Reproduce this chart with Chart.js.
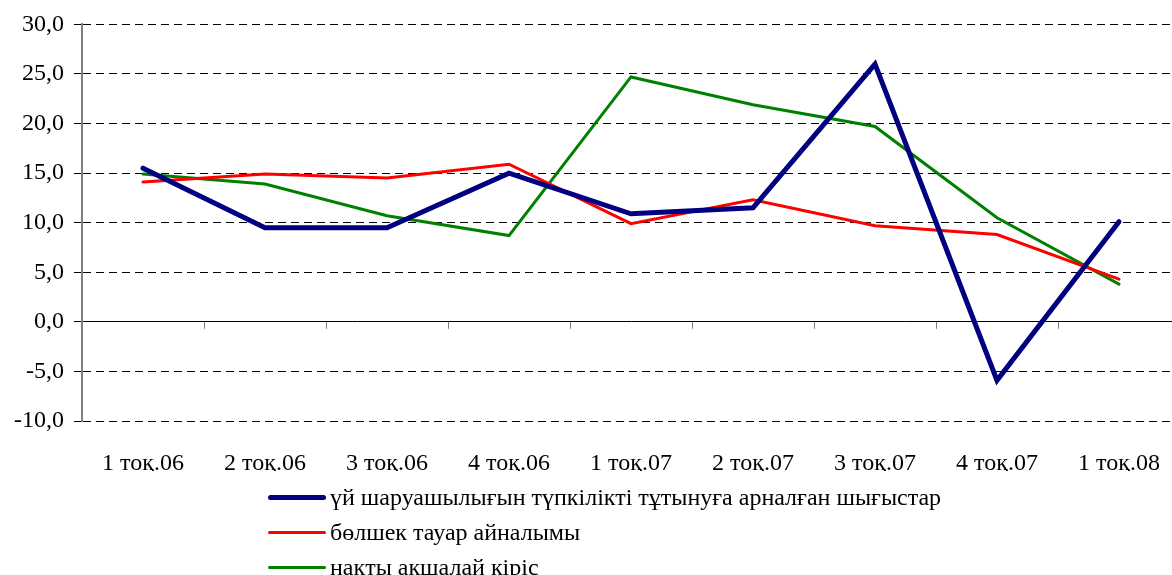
<!DOCTYPE html>
<html>
<head>
<meta charset="utf-8">
<script src="https://cdn.jsdelivr.net/npm/chart.js@4.4.0/dist/chart.umd.min.js"></script>
<style>
  html, body { margin: 0; padding: 0; background: #fff; overflow: hidden; }
  #wrap { position: relative; width: 1172px; height: 575px; overflow: hidden; }
  #chart { position: absolute; left: 0; top: 0; }
  #legend { position: absolute; left: 268px; top: 480px; font-family: "Liberation Serif", serif; font-size: 24px; color: #000; }
  .row { height: 35px; display: flex; align-items: center; white-space: nowrap; }
  .sw { display: inline-block; width: 58px; margin-right: 4px; border-radius: 3px; }
</style>
</head>
<body>
<div id="wrap">
  <canvas id="chart" width="1190" height="575"></canvas>
  <div id="legend"></div>
</div>
<script>
const quarters = ["1 тоқ.06", "2 тоқ.06", "3 тоқ.06", "4 тоқ.06", "1 тоқ.07", "2 тоқ.07", "3 тоқ.07", "4 тоқ.07", "1 тоқ.08"];
const householdSpending = [15.5, 9.5, 9.5, 15.0, 10.9, 11.5, 26.0, -5.9, 10.1];
const retailTurnover = [14.1, 14.9, 14.5, 15.9, 9.9, 12.3, 9.7, 8.8, 4.3];
const realIncome = [14.9, 13.9, 10.7, 8.7, 24.7, 21.9, 19.7, 10.5, 3.8];
const seriesNames = [
	"үй шаруашылығын түпкілікті тұтынуға арналған шығыстар",
	"бөлшек тауар айналымы",
	"нақты ақшалай кіріс"
];
const yTicks = { min: -10, max: 30, step: 5 };

const serif = "'Liberation Serif', 'Times New Roman', serif";

// short grey ticks along the zero line between categories
const zeroTicks = {
	id: 'zeroTicks',
	afterDraw(chart) {
		const x = chart.scales.x, y = chart.scales.y, ctx = chart.ctx;
		const y0 = y.getPixelForValue(0);
		ctx.save();
		ctx.strokeStyle = '#808080';
		ctx.lineWidth = 1;
		for (let i = 0; i < quarters.length - 1; i++) {
			const xb = Math.round((x.getPixelForValue(i) + x.getPixelForValue(i + 1)) / 2) + 0.5;
			ctx.beginPath();
			ctx.moveTo(xb, y0);
			ctx.lineTo(xb, y0 + 7);
			ctx.stroke();
		}
		ctx.restore();
	}
};

const chart = new Chart(document.getElementById('chart'), {
	type: 'line',
	data: {
		labels: quarters,
		datasets: [
			{ label: seriesNames[0], data: householdSpending, borderColor: '#000080', backgroundColor: '#000080', borderWidth: 5 },
			{ label: seriesNames[1], data: retailTurnover, borderColor: '#ff0000', backgroundColor: '#ff0000', borderWidth: 3 },
			{ label: seriesNames[2], data: realIncome, borderColor: '#008000', backgroundColor: '#008000', borderWidth: 3 }
		]
	},
	options: {
		responsive: false,
		animation: false,
		layout: { padding: { top: 23, left: 0, right: 10, bottom: 104 } },
		elements: {
			point: { radius: 0 },
			line: { tension: 0, borderCapStyle: 'round', borderJoinStyle: 'miter' }
		},
		plugins: {
			legend: { display: false },
			tooltip: { enabled: false }
		},
		scales: {
			x: {
				type: 'category',
				offset: true,
				grid: { display: false, drawTicks: false },
				border: { display: false },
				ticks: { color: '#000', font: { family: serif, size: 24 }, padding: 28, maxRotation: 0, autoSkip: false },
				afterFit: s => { s.height = 50; }
			},
			y: {
				min: yTicks.min,
				max: yTicks.max,
				afterFit: s => { s.width = 82; },
				ticks: {
					stepSize: yTicks.step,
					color: '#000',
					font: { family: serif, size: 24 },
					padding: 10,
					callback: v => v.toFixed(1).replace('.', ',')
				},
				grid: { color: '#000', lineWidth: 1, tickLength: 8, tickColor: '#000' },
				border: {
					display: true,
					color: '#808080',
					width: 2,
					dash: ctx => (ctx.tick && ctx.tick.value === 0) ? [] : [8, 5]
				}
			}
		}
	},
	plugins: [zeroTicks]
});

// legend listed vertically under the plot
const legend = document.getElementById('legend');
chart.data.datasets.forEach(ds => {
	const row = document.createElement('div');
	row.className = 'row';
	const sw = document.createElement('span');
	sw.className = 'sw';
	sw.style.height = ds.borderWidth + 'px';
	sw.style.background = ds.borderColor;
	row.appendChild(sw);
	row.appendChild(document.createTextNode(ds.label));
	legend.appendChild(row);
});
</script>
</body>
</html>
